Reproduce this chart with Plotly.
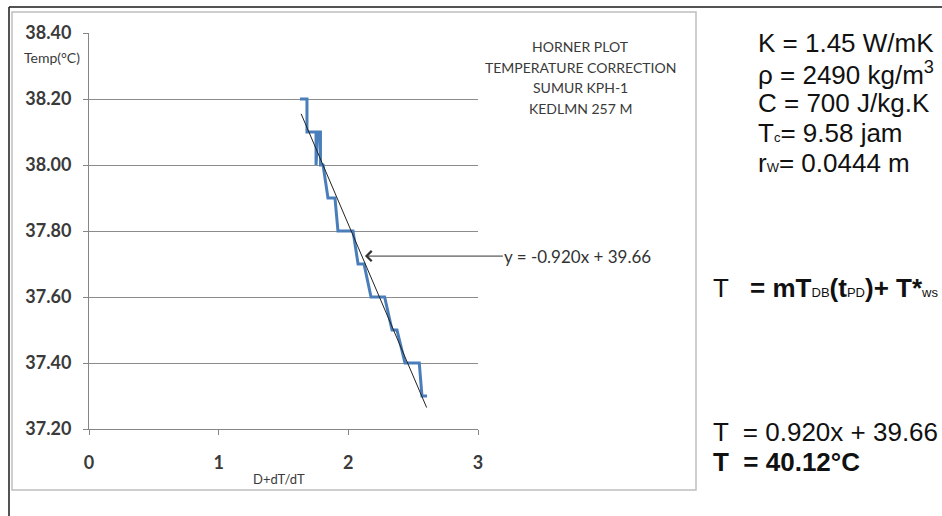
import plotly.graph_objects as go

W, H = 942, 516

# ---- data ----
step_x = [1.627, 1.681, 1.681, 1.751, 1.751, 1.766, 1.785, 1.785, 1.805, 1.843, 1.897,
          1.920, 2.036, 2.075, 2.121, 2.175, 2.280, 2.337, 2.375, 2.437, 2.547, 2.568, 2.607]
step_y = [38.20, 38.20, 38.10, 38.10, 38.00, 38.10, 38.10, 38.00, 38.00, 37.90, 37.90,
          37.80, 37.80, 37.70, 37.70, 37.60, 37.60, 37.50, 37.50, 37.40, 37.40, 37.30, 37.30]
trend_x = [1.636, 2.604]
trend_y = [38.155, 37.265]

y_ticks = [37.20, 37.40, 37.60, 37.80, 38.00, 38.20, 38.40]
y_tick_labels = ["37.20", "37.40", "37.60", "37.80", "38.00", "38.20", "38.40"]
x_ticks = [0, 1, 2, 3]
x_tick_labels = ["0", "1", "2", "3"]

title_lines = ["HORNER PLOT", "TEMPERATURE CORRECTION", "SUMUR KPH-1", "KEDLMN 257 M"]
eq_label = "y = -0.920x + 39.66"
eq_point = (2.128, 37.724)

SM = '<span style="font-size:13px">'
param_lines = [
    "K = 1.45 W/mK",
    "ρ = 2490 kg/m<sup>3</sup>",
    "C = 700 J/kg.K",
    "T" + SM + "c</span>= 9.58 jam",
    "r" + SM + "W</span>= 0.0444 m",
]
formula_line = ("T   <b>= mT</b>" + SM + "DB</span><b>(t</b>" + SM + "PD</span><b>)+ T*</b>"
                + SM + "ws</span>")
result_line1 = "T  = 0.920x + 39.66"
result_line2 = "<b>T  = 40.12°C</b>"


def px(x):
    return x / W


def py(y):
    return 1 - y / H


fig = go.Figure()
fig.add_trace(go.Scatter(x=step_x, y=step_y, mode="lines",
                         line=dict(color="#4A7EBB", width=3), showlegend=False,
                         hoverinfo="skip"))
fig.add_trace(go.Scatter(x=trend_x, y=trend_y, mode="lines",
                         line=dict(color="#222222", width=1), showlegend=False,
                         hoverinfo="skip"))

calib = "Lato, Carlito, sans-serif"
arial = "Liberation Sans, Arial, sans-serif"

fig.update_layout(
    width=W, height=H,
    margin=dict(l=0, r=0, t=0, b=0, autoexpand=False),
    paper_bgcolor="white", plot_bgcolor="white",
    xaxis=dict(domain=[px(89), px(478)], range=[0, 3], tickvals=x_ticks, ticktext=x_tick_labels,
               showgrid=False, zeroline=False, showline=True, linecolor="#868686", linewidth=1,
               ticks="outside", ticklen=5, tickcolor="#868686", ticklabelstandoff=12,
               tickfont=dict(family=calib, size=18, color="#3A3A3A", weight="bold"),
               automargin=False, fixedrange=True),
    yaxis=dict(domain=[py(429), py(33)], range=[37.2, 38.4], tickvals=y_ticks, ticktext=y_tick_labels,
               showgrid=True, gridcolor="#8C8C8C", gridwidth=1, zeroline=False,
               showline=True, linecolor="#868686", linewidth=1,
               ticks="outside", ticklen=5, tickcolor="#868686", ticklabelstandoff=8,
               tickfont=dict(family=calib, size=18, color="#3A3A3A", weight="bold"),
               automargin=False, fixedrange=True),
)

shapes = [
    # outer chart frame
    dict(type="rect", xref="paper", yref="paper", x0=px(12), x1=px(696), y0=py(490), y1=py(12),
         line=dict(color="#BEBEBE", width=1.5)),
    # black border lines of the slide
    dict(type="line", xref="paper", yref="paper", x0=px(9), x1=px(942), y0=py(7), y1=py(7),
         line=dict(color="#1A1A1A", width=1.5)),
    dict(type="line", xref="paper", yref="paper", x0=px(9), x1=px(9), y0=py(7), y1=py(516),
         line=dict(color="#1A1A1A", width=1.5)),
]
fig.update_layout(shapes=shapes)

ann = []
for i, t in enumerate(title_lines):
    ann.append(dict(text=t, xref="paper", yref="paper", x=px(580), y=py(46 + 21 * i),
                    xanchor="center", yanchor="middle", showarrow=False,
                    font=dict(family=calib, size=14, color="#3A3A3A")))
ann.append(dict(text="Temp(°C)", xref="paper", yref="paper", x=px(52), y=py(58),
                xanchor="center", yanchor="middle", showarrow=False,
                font=dict(family=calib, size=14, color="#3A3A3A")))
ann.append(dict(text="D+dT/dT", xref="paper", yref="paper", x=px(279), y=py(479),
                xanchor="center", yanchor="middle", showarrow=False,
                font=dict(family=calib, size=13, color="#3A3A3A")))
ann.append(dict(text=eq_label, x=eq_point[0], y=eq_point[1], xref="x", yref="y",
                ax=213, ay=0, axref="pixel", ayref="pixel",
                showarrow=True, arrowhead=4, arrowsize=2, arrowwidth=1, arrowcolor="#333333",
                font=dict(family=calib, size=17, color="#333333")))
for i, t in enumerate(param_lines):
    ann.append(dict(text=t, xref="paper", yref="paper", x=px(756), y=py(43 + 30 * i),
                    xanchor="left", yanchor="middle", showarrow=False,
                    font=dict(family=arial, size=26, color="#111111")))
ann.append(dict(text=formula_line, xref="paper", yref="paper", x=px(711), y=py(288),
                xanchor="left", yanchor="middle", showarrow=False,
                font=dict(family=arial, size=26, color="#111111")))
ann.append(dict(text=result_line1, xref="paper", yref="paper", x=px(711), y=py(432),
                xanchor="left", yanchor="middle", showarrow=False,
                font=dict(family=arial, size=26, color="#111111")))
ann.append(dict(text=result_line2, xref="paper", yref="paper", x=px(711), y=py(462),
                xanchor="left", yanchor="middle", showarrow=False,
                font=dict(family=arial, size=26, color="#111111")))
fig.update_layout(annotations=ann)

fig.write_html("out.html")
